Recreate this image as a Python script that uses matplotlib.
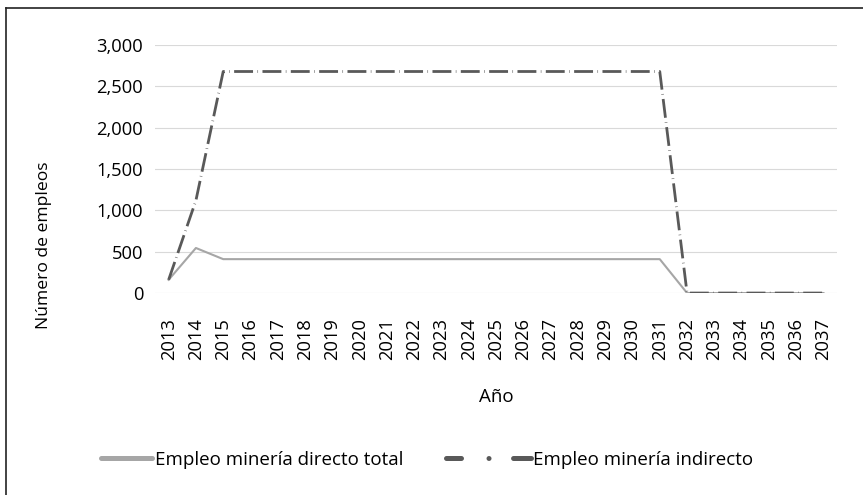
import numpy as np
import matplotlib
matplotlib.use('Agg')
import matplotlib.pyplot as plt
from matplotlib.lines import Line2D

plt.rcParams['font.family'] = ['Open Sans', 'DejaVu Sans']

# data
years = [str(y) for y in range(2013, 2038)]
directo = [160, 545, 410, 410, 410, 410, 410, 410, 410, 410, 410, 410, 410,
           410, 410, 410, 410, 410, 410, 0, 0, 0, 0, 0, 0]
indirecto = [160, 1120, 2680, 2680, 2680, 2680, 2680, 2680, 2680, 2680, 2680,
             2680, 2680, 2680, 2680, 2680, 2680, 2680, 2680, 0, 0, 0, 0, 0, 0]
yticks = [0, 500, 1000, 1500, 2000, 2500, 3000]
labels = ['Empleo minería directo total', 'Empleo minería indirecto']

c_dir = '#a6a6a6'
c_ind = '#595959'

fig = plt.figure(figsize=(8.63, 4.95), dpi=100)
ax = fig.add_axes([0.1796, 0.408, 0.7904, 0.501])

x = np.arange(len(years))
ax.plot(x, directo, color=c_dir, lw=1.5, zorder=3)
ax.plot(x, indirecto, color=c_ind, lw=2.0,
        linestyle=(0, (6.8, 1.6, 0.2, 1.6)), zorder=4)

ax.set_xlim(-0.5, len(years) - 0.5)
ax.set_ylim(0, 3000)
ax.set_yticks(yticks)
ax.set_yticklabels(['{:,}'.format(v) for v in yticks])
ax.set_xticks(x)
ax.set_xticklabels(years, rotation=90)
ax.tick_params(length=0, labelsize=13.2)
ax.tick_params(axis='x', pad=18)
ax.tick_params(axis='y', pad=8.5)
ax.grid(axis='y', color='#d9d9d9', lw=0.8)
ax.set_axisbelow(True)
for s in ax.spines.values():
    s.set_visible(False)

ax.set_ylabel('Número de empleos', fontsize=12.6, ha='center', va='center')
ax.yaxis.set_label_coords(-0.163, 0.194)
ax.set_xlabel('Año', fontsize=13.5, va='center')
ax.xaxis.set_label_coords(0.5, -0.419)

# legend: two entries with handles of different length, as in the reference
h1 = Line2D([], [], color=c_dir, lw=3.6, solid_capstyle='round')
h2 = Line2D([], [], color=c_ind, lw=3.6, dash_capstyle='round',
            linestyle=(0, (3.0, 5.5, 0.01, 4.9, 4.0, 5)))
leg1 = fig.legend([h1], [labels[0]], loc='center left',
                  bbox_to_anchor=(100.5 / 863, 0.0707), frameon=False,
                  fontsize=13.5, handlelength=2.77, handletextpad=0.16,
                  borderpad=0, borderaxespad=0)
leg2 = fig.legend([h2], [labels[1]], loc='center left',
                  bbox_to_anchor=(445.5 / 863, 0.0707), frameon=False,
                  fontsize=13.5, handlelength=4.56, handletextpad=0.1,
                  borderpad=0, borderaxespad=0)

# frame (only left and top edges show in the reference)
fig.add_artist(Line2D([0.0067, 0.0067], [0, 0.984], color='#222222', lw=1.2,
                      transform=fig.transFigure))
fig.add_artist(Line2D([0.0067, 1], [0.984, 0.984], color='#222222', lw=1.2,
                      transform=fig.transFigure))

fig.savefig('out.png', dpi=100)
